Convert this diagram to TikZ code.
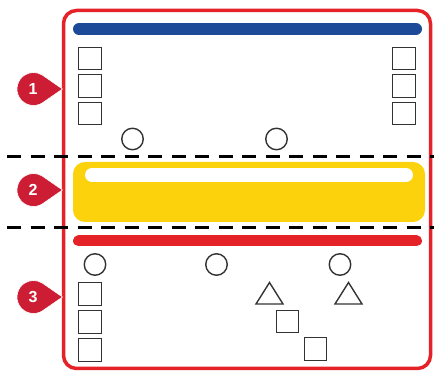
\documentclass[tikz,border=0pt]{standalone}
\usepackage{fontspec}
\setmainfont{Liberation Sans}
\definecolor{framered}{HTML}{E42228}
\definecolor{barblue}{HTML}{1C4A99}
\definecolor{baryellow}{HTML}{FBD20B}
\definecolor{markred}{HTML}{CD1D35}
\definecolor{shapegray}{HTML}{333333}
\tikzset{
  sq/.style={draw=shapegray, line width=1.4pt, minimum size=22.5pt, inner sep=0pt, fill=white},
  circ/.style={draw=shapegray, line width=1.4pt, circle, minimum size=21.5pt, inner sep=0pt, fill=white},
  tri/.style={draw=shapegray, line width=1.4pt, line join=miter, fill=white},
  sepline/.style={line width=3pt, dash pattern=on 14pt off 9.5pt, black},
  mk/.style={fill=markred, draw=white, line width=0.6pt},
  mktext/.style={text=white, font=\bfseries\fontsize{16}{16}\selectfont, inner sep=0pt}
}
\newcommand{\mymarker}[2]{%
  \fill[mk] (62.5,#1) -- ($(33.5,#1)+(58:16.5)$) arc[start angle=58, end angle=302, radius=16.5] -- cycle;
  \node[mktext] (m#2) at (33,#1) {#2};
}
\usetikzlibrary{calc}
\begin{document}
\begin{tikzpicture}[x=1pt,y=-1pt]
\useasboundingbox (0,0) rectangle (434,371);
\fill[white] (0,0) rectangle (434,371);
% frame
\draw[framered, line width=3.5pt, rounded corners=13pt] (63.5,10.5) rectangle (430.5,368.5);
% blue bar
\draw[barblue, line width=12pt, line cap=round] (79,29) -- (416,29);
% yellow box
\fill[baryellow, rounded corners=12pt] (73,162) rectangle (425,222);
\draw[white, line width=14pt, line cap=round] (92,175) -- (406,175);
% red bar
\draw[framered, line width=11pt, line cap=round] (78.5,241) -- (416.5,241);
% separators
\coordinate (d1a) at (7,157);
\coordinate (d1b) at (434,157);
\coordinate (d2a) at (7,228);
\coordinate (d2b) at (434,228);
\draw[sepline] (d1a) -- (d1b);
\draw[sepline] (d2a) -- (d2b);
% section 1 shapes
\node[sq] (l1) at (90,58.5) {};
\node[sq] (l2) at (90,86) {};
\node[sq] (l3) at (90,113.5) {};
\node[sq] (r1) at (404,58.5) {};
\node[sq] (r2) at (404,86) {};
\node[sq] (r3) at (404,113.5) {};
\node[circ] (c1) at (132.5,139) {};
\node[circ] (c2) at (276.5,139) {};
% section 3 shapes
\node[circ] (c3) at (95,264.5) {};
\node[circ] (c4) at (216.5,264.5) {};
\node[circ] (c5) at (340,264.5) {};
\node[sq] (b1) at (90,294) {};
\node[sq] (b2) at (90,322) {};
\node[sq] (b3) at (90,350) {};
\draw[tri] (256,304) -- (269.5,282.5) -- (283,304) -- cycle;
\draw[tri] (335,304) -- (348.5,282.5) -- (362,304) -- cycle;
\node[sq] (s1) at (287.5,321.5) {};
\node[sq] (s2) at (315.5,349) {};
% markers
\mymarker{89}{1}
\mymarker{190}{2}
\mymarker{297}{3}
\end{tikzpicture}
\end{document}
